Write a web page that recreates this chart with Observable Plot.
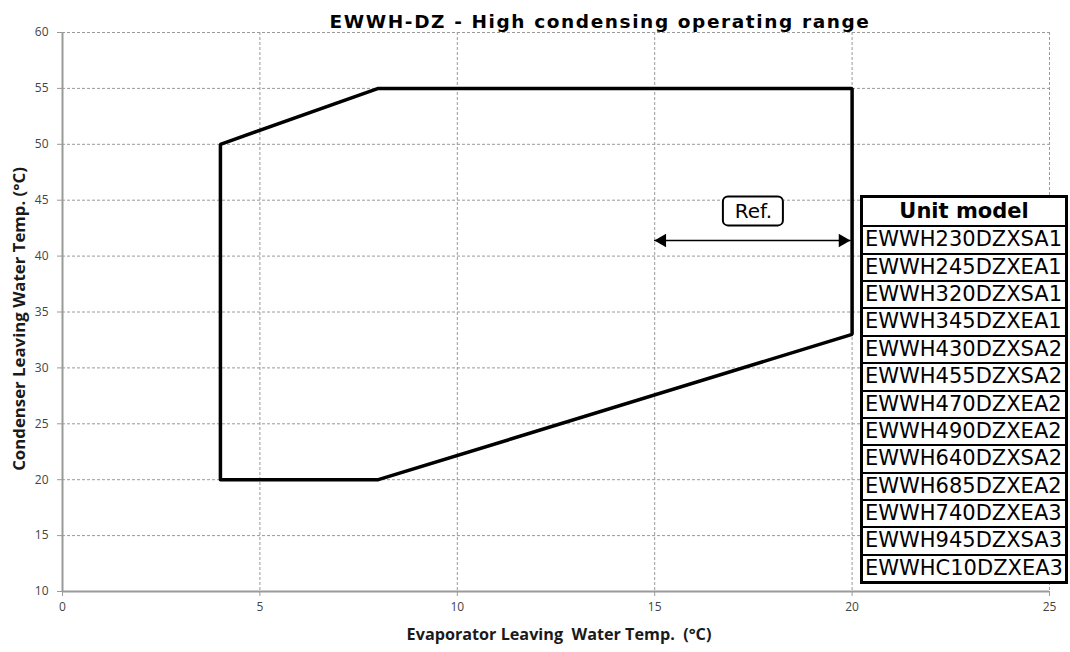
<!DOCTYPE html>
<html><head><meta charset="utf-8">
<script src="https://cdn.jsdelivr.net/npm/d3@7"></script>
<script src="https://cdn.jsdelivr.net/npm/@observablehq/plot@0.6"></script>
<style>
body{margin:0;background:#fff;}
#wrap{position:relative;width:1070px;height:652px;overflow:hidden;}
#tbl{position:absolute;left:860px;top:195px;width:208px;height:389px;box-sizing:border-box;border:3px solid #000;background:#fff;font-family:"DejaVu Sans",sans-serif;}
#tbl div{box-sizing:border-box;height:27.36px;line-height:25px;font-size:21px;padding-left:2px;white-space:nowrap;color:#000;overflow:hidden;}
#tbl div+div{border-top:2px solid #000;}
#tbl div.h{font-weight:bold;text-align:center;padding-left:0;line-height:27px;}
</style></head><body><div id="wrap"></div>
<script>
const titleText = "EWWH-DZ - High condensing operating range";
const xLabel = "Evaporator Leaving  Water Temp.  (°C)";
const yLabel = "Condenser Leaving Water Temp. (°C)";
const envelopeX = [4, 4, 8, 20, 20, 8, 4];
const envelopeY = [20, 50, 55, 55, 33, 20, 20];
const xTicks = [0, 5, 10, 15, 20, 25];
const yTicks = [10, 15, 20, 25, 30, 35, 40, 45, 50, 55, 60];
const tableHeader = "Unit model";
const unitModels = ["EWWH230DZXSA1","EWWH245DZXEA1","EWWH320DZXSA1","EWWH345DZXEA1","EWWH430DZXSA2","EWWH455DZXSA2","EWWH470DZXEA2","EWWH490DZXEA2","EWWH640DZXSA2","EWWH685DZXEA2","EWWH740DZXEA3","EWWH945DZXSA3","EWWHC10DZXEA3"];
const refArrowX = [15, 19.95];
const refArrowY = [41.4, 41.4];
const refLabelX = [17.5];
const refLabelY = [44];
const refLabelText = ["Ref."];

const envelope = envelopeX.map((x, i) => ({x, y: envelopeY[i]}));
const arrowPts = refArrowX.map((x, i) => ({x, y: refArrowY[i]}));
const refLabel = refLabelX.map((x, i) => ({x, y: refLabelY[i], t: refLabelText[i]}));

const font = "DejaVu Sans, sans-serif";
const chart = Plot.plot({
  width: 1070, height: 652,
  marginLeft: 62, marginRight: 21, marginTop: 32, marginBottom: 61,
  style: {fontFamily: font, background: "#fff", overflow: "visible"},
  x: {domain: [0, 25], ticks: xTicks},
  y: {domain: [10, 60], ticks: yTicks},
  marks: [
    Plot.gridX(xTicks.filter(v => v > 0), {stroke: "#9a9a9a", strokeOpacity: 1, strokeDasharray: "3,2"}),
    Plot.gridY(yTicks.filter(v => v > 10), {stroke: "#9a9a9a", strokeOpacity: 1, strokeDasharray: "3,2"}),
    Plot.ruleX([0], {stroke: "#9a9a9a", strokeWidth: 2}),
    Plot.ruleY([10], {stroke: "#9a9a9a", strokeWidth: 2}),
    Plot.axisX(xTicks, {tickSize: 5, tickPadding: 6, stroke: "#9a9a9a", fill: "#444", fontSize: 12, fontFamily: "Open Sans", label: null}),
    Plot.axisY(yTicks, {tickSize: 5, tickPadding: 9, stroke: "#9a9a9a", fill: "#444", fontSize: 12, fontFamily: "Open Sans", label: null}),
    Plot.line(envelope, {x: "x", y: "y", stroke: "#000", strokeWidth: 3.5, strokeLinejoin: "miter"}),
    Plot.line(arrowPts, {x: "x", y: "y", stroke: "#000", strokeWidth: 1.5}),
    Plot.dot(arrowPts.slice(0, 1), {x: "x", y: "y", symbol: "triangle", r: 5, fill: "#000", stroke: null, rotate: -90, dx: 7.5}),
    Plot.dot(arrowPts.slice(1), {x: "x", y: "y", symbol: "triangle", r: 5, fill: "#000", stroke: null, rotate: 90, dx: -7.5}),
    Plot.rect(refLabel, {x1: "x", x2: "x", y1: "y", y2: "y", insetLeft: -30, insetRight: -30, insetTop: -14.5, insetBottom: -14.5, rx: 5, fill: "#fff", stroke: "#000", strokeWidth: 2}),
    Plot.text(refLabel, {x: "x", y: "y", text: "t", fontSize: 20, fill: "#000"}),
    Plot.text([titleText], {frameAnchor: "top", dx: 44, dy: -17.5, fontSize: 18.5, fontWeight: "bold", fill: "#000", className: "ttl"}),
    Plot.text([xLabel], {frameAnchor: "bottom", dx: 3, dy: 48, fontSize: 16.2, fontWeight: "bold", fontFamily: "Open Sans", fill: "#1a1a1a", className: "lbl"}),
    Plot.text([yLabel], {frameAnchor: "left", textAnchor: "middle", dx: -43, dy: 7, rotate: -90, fontSize: 16.8, fontWeight: "bold", fontFamily: "Open Sans", fill: "#1a1a1a", className: "lbl"})
  ]
});
chart.querySelectorAll(".ttl text").forEach(t => t.setAttribute("letter-spacing", "1.6"));
chart.querySelectorAll(".lbl text").forEach(t => { t.setAttribute("xml:space", "preserve"); t.style.whiteSpace = "pre"; });
const wrap = document.getElementById("wrap");
wrap.appendChild(chart);
const tbl = document.createElement("div");
tbl.id = "tbl";
const h = document.createElement("div");
h.className = "h"; h.textContent = tableHeader; tbl.appendChild(h);
for (const m of unitModels) { const r = document.createElement("div"); r.textContent = m; tbl.appendChild(r); }
wrap.appendChild(tbl);
</script>
</body></html>
